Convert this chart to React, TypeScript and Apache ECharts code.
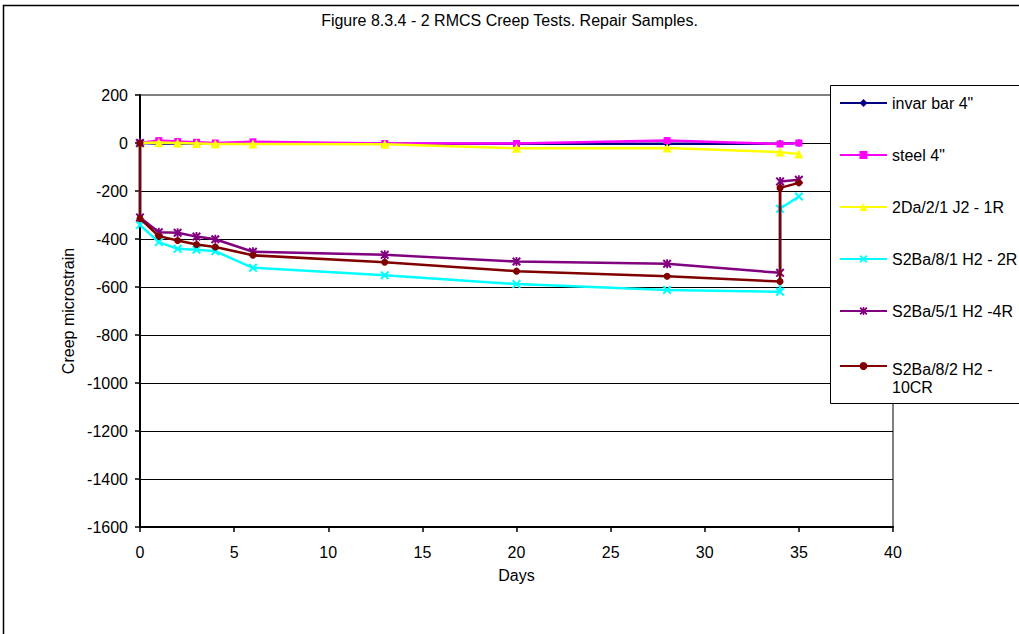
import React, { useEffect, useRef } from "react";
import * as echarts from "echarts";

const FONT = "'Liberation Sans', Arial, Helvetica, sans-serif";

const titleText = "Figure 8.3.4 - 2 RMCS Creep Tests. Repair Samples.";
const xAxisName = "Days";
const yAxisName = "Creep microstrain";

// days for reference bars / 2Da sample
const refDays = [0, 1, 2, 3, 4, 6, 13, 20, 28, 34, 35];
// days for S2Ba samples (instant drop at day 0, instant recovery at day 34)
const sampleDays = [0, 0, 1, 2, 3, 4, 6, 13, 20, 28, 34, 34, 35];

const invarBar = [0, -2, -2, -2, -2, -2, -3, -3, -3, -3, 0];
const steel = [0, 10, 6, 3, 0, 5, -2, -2, 10, -4, 0];
const s2Da = [0, 2, 0, -2, -4, -4, -5, -22, -21, -38, -46];
const s2Ba81 = [0, -342, -413, -441, -445, -451, -520, -551, -588, -612, -620, -274, -223];
const s2Ba51 = [0, -310, -372, -374, -390, -401, -453, -466, -494, -503, -541, -160, -153];
const s2Ba82 = [0, -315, -388, -406, -423, -433, -468, -497, -534, -555, -577, -187, -166];

const names = [
  'invar bar 4"',
  'steel 4"',
  "2Da/2/1 J2 - 1R",
  "S2Ba/8/1 H2 - 2R",
  "S2Ba/5/1 H2 -4R",
  "S2Ba/8/2 H2 - 10CR",
];
const colors = ["#000080", "#FF00FF", "#FFFF00", "#00FFFF", "#800080", "#800000"];

const X_PATH =
  "path://M0,1.6 L1.6,0 L5,3.4 L8.4,0 L10,1.6 L6.6,5 L10,8.4 L8.4,10 L5,6.6 L1.6,10 L0,8.4 L3.4,5 Z";
const STAR_PATH =
  "path://M0,1.6 L1.6,0 L5,3.4 L8.4,0 L10,1.6 L6.6,5 L10,8.4 L8.4,10 L5,6.6 L1.6,10 L0,8.4 L3.4,5 Z M4,0 L6,0 L6,10 L4,10 Z";

const symbols = ["diamond", "rect", "triangle", X_PATH, STAR_PATH, "circle"];
const symbolSizes = [8, 7, 9, 9, 9, 7];

const zip = (xs: number[], ys: number[]) => ys.map((y, i) => [xs[i], y]);

export default function App() {
  const ref = useRef<HTMLDivElement>(null);
  useEffect(() => {
    if (!ref.current) return;
    const chart = echarts.init(ref.current, null, { renderer: "svg" });
    const seriesData = [
      zip(refDays, invarBar),
      zip(refDays, steel),
      zip(refDays, s2Da),
      zip(sampleDays, s2Ba81),
      zip(sampleDays, s2Ba51),
      zip(sampleDays, s2Ba82),
    ];
    const legendText = {
      fontFamily: FONT,
      fontSize: 16,
      color: "#000",
      lineHeight: 18,
    };
    chart.setOption({
      animation: false,
      backgroundColor: "#fff",
      textStyle: { fontFamily: FONT },
      title: {
        text: titleText,
        left: "center",
        top: 12,
        padding: 0,
        textStyle: { fontFamily: FONT, fontSize: 16, fontWeight: "normal", color: "#000" },
      },
      grid: {
        left: 140,
        top: 95,
        width: 753,
        height: 432,
        show: true,
        borderColor: "#808080",
        borderWidth: 2,
        backgroundColor: "#fff",
        outerBoundsMode: "none",
        containLabel: false,
      },
      xAxis: {
        type: "value",
        min: 0,
        max: 40,
        interval: 5,
        name: xAxisName,
        nameLocation: "middle",
        nameGap: 40,
        nameTextStyle: { fontFamily: FONT, fontSize: 16, color: "#000" },
        axisLine: { show: true, onZero: false, lineStyle: { color: "#000", width: 2 } },
        axisTick: { show: true, length: 5, lineStyle: { color: "#000", width: 1.5 } },
        axisLabel: { fontFamily: FONT, fontSize: 16, color: "#000", margin: 17 },
        splitLine: { show: false },
      },
      yAxis: {
        type: "value",
        min: -1600,
        max: 200,
        interval: 200,
        name: yAxisName,
        nameLocation: "middle",
        nameGap: 56,
        nameTextStyle: { fontFamily: FONT, fontSize: 16, color: "#000" },
        axisLine: { show: true, onZero: false, lineStyle: { color: "#000", width: 2 } },
        axisTick: { show: true, length: 5, lineStyle: { color: "#000", width: 1.5 } },
        axisLabel: {
          fontFamily: FONT,
          fontSize: 16,
          color: "#000",
          margin: 12,
          formatter: (v: number) => String(v),
        },
        splitLine: {
          show: true,
          showMinLine: false,
          showMaxLine: false,
          lineStyle: { color: "#000", width: 1 },
        },
      },
      legend: [
        {
          data: names.slice(0, 5),
          orient: "vertical",
          left: 839,
          top: 94,
          padding: 0,
          itemWidth: 47,
          itemHeight: 10,
          itemGap: 34,
          selectedMode: false,
          textStyle: legendText,
          z: 6,
        },
        {
          data: [names[5]],
          formatter: () => "{s| }\n{a|S2Ba/8/2 H2 -}\n{a|10CR}",
          orient: "vertical",
          left: 839,
          top: 336,
          padding: 0,
          itemWidth: 47,
          itemHeight: 10,
          selectedMode: false,
          textStyle: {
            ...legendText,
            rich: {
              s: { fontSize: 4, lineHeight: 24 },
              a: { fontFamily: FONT, fontSize: 16, color: "#000", lineHeight: 18 },
            },
          },
          z: 6,
        },
      ],
      graphic: {
        elements: [
          {
            type: "rect",
            z: 0,
            silent: true,
            shape: { x: 3.5, y: 5.5, width: 1100, height: 700 },
            style: { fill: "none", stroke: "#000", lineWidth: 1.5 },
          },
          {
            type: "rect",
            z: 5,
            zlevel: 0,
            silent: true,
            shape: { x: 830.5, y: 85.5, width: 300, height: 318 },
            style: { fill: "#fff", stroke: "#000", lineWidth: 1 },
          },
        ],
      },
      series: seriesData.map((d, i) => ({
        name: names[i],
        type: "line",
        data: d,
        symbol: symbols[i],
        symbolSize: symbolSizes[i],
        showAllSymbol: true,
        color: colors[i],
        lineStyle: { color: colors[i], width: 2.5 },
        itemStyle: { color: colors[i] },
        z: 2 + i * 0.01,
      })),
    });
    return () => chart.dispose();
  }, []);
  return (
    <div
      ref={ref}
      style={{ position: "absolute", left: 0, top: 0, width: 1019, height: 634 }}
    />
  );
}
